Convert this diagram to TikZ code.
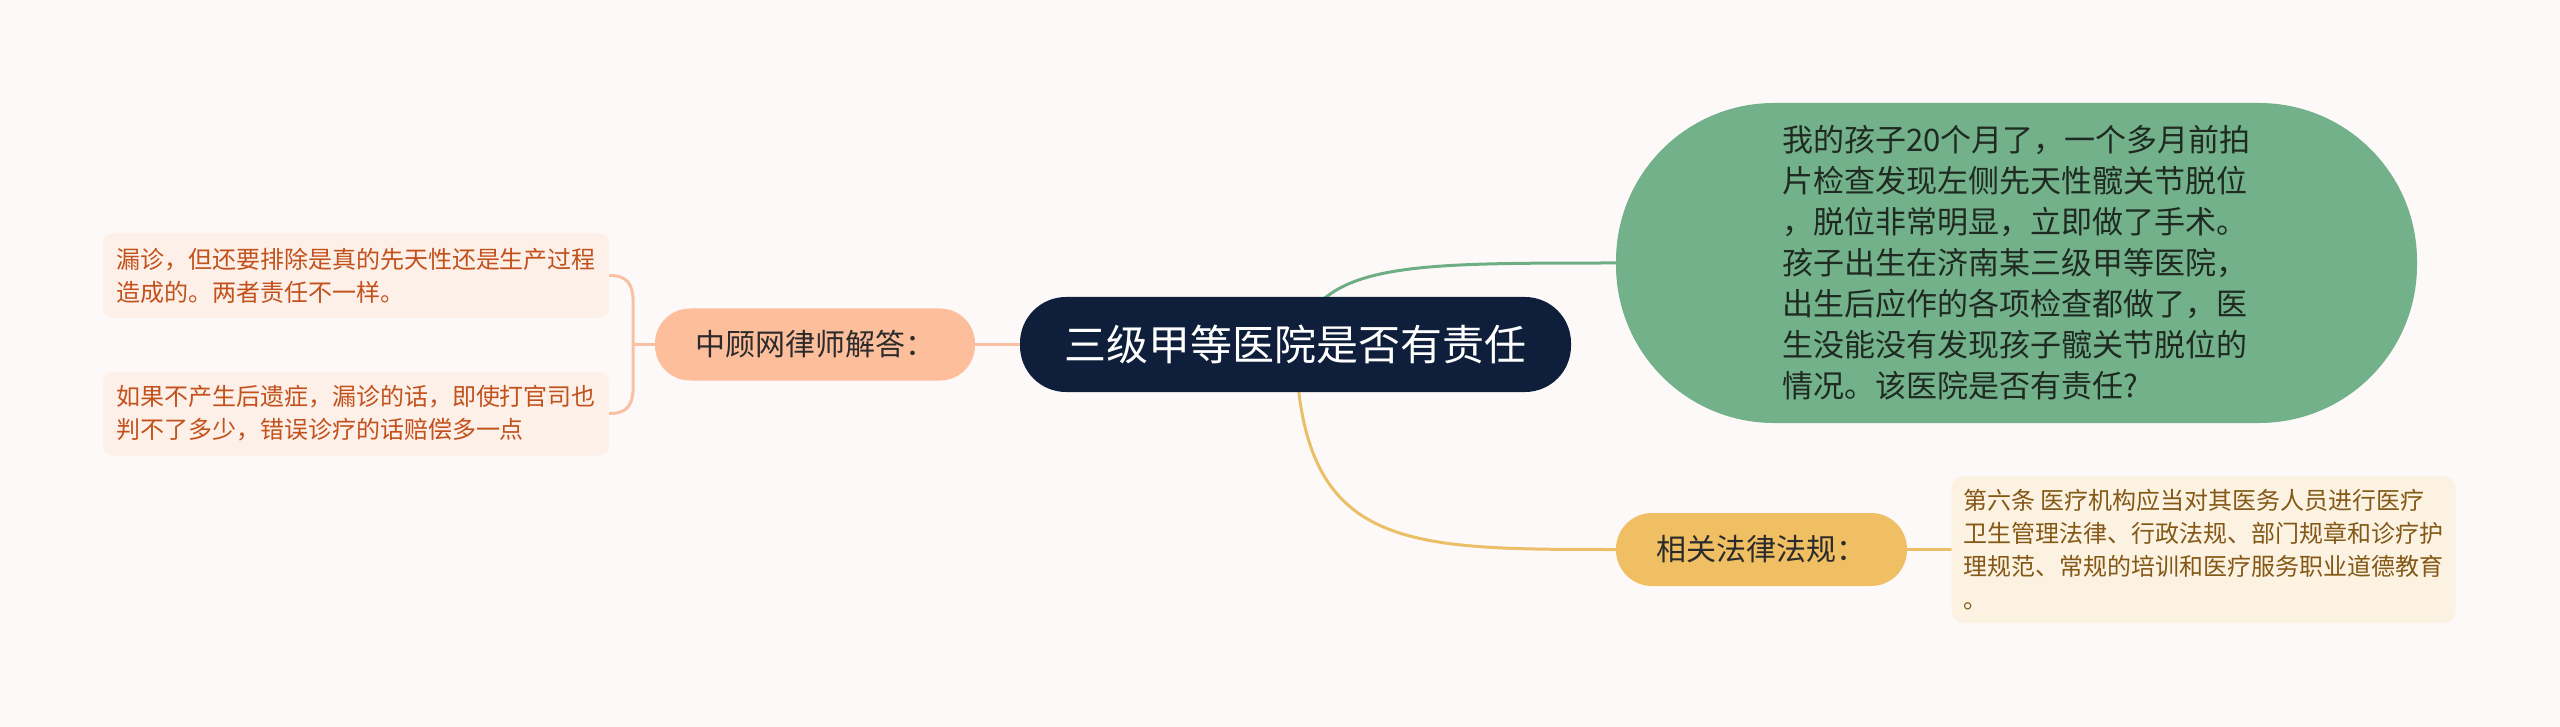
\documentclass[tikz,border=0pt]{standalone}
\usepackage{fontspec}
\setmainfont{Noto Sans CJK SC}
\usetikzlibrary{backgrounds,calc}
\definecolor{bgc}{HTML}{FDF9F8}
\definecolor{rootc}{HTML}{0E1E3B}
\definecolor{peach}{HTML}{FDBE9C}
\definecolor{peachline}{HTML}{F8C1A3}
\definecolor{leaffill}{HTML}{FDF0E8}
\definecolor{leaftext}{HTML}{C2511C}
\definecolor{greenc}{HTML}{72B189}
\definecolor{greenline}{HTML}{6DAE85}
\definecolor{goldc}{HTML}{F0BE63}
\definecolor{goldline}{HTML}{EABF67}
\definecolor{lawfill}{HTML}{FCF2E2}
\definecolor{lawtext}{HTML}{845816}
\definecolor{darktext}{HTML}{2B2B2B}
\definecolor{greentext}{HTML}{1F2A22}
\begin{document}
\begin{tikzpicture}[x=1pt,y=-1pt,
  box/.style={inner sep=0pt, align=left},
  conn/.style={line width=3pt, line cap=round}]
\useasboundingbox (0,0) rectangle (2560,727);
% nodes
\node[box, align=center, fill=rootc, text=white, minimum width=551pt, minimum height=95pt,
  rounded corners=46pt, font=\fontsize{42}{50}\selectfont] (root) at (1295.5,344.5) {三级甲等医院是否有责任};
\node[box, align=center, fill=peach, text=darktext, minimum width=320pt, minimum height=72pt,
  rounded corners=35pt, font=\fontsize{30}{36}\selectfont] (ans) at (815,344.5) {中顾网律师解答：};
\node[box, fill=leaffill, text=leaftext, minimum width=506pt, minimum height=85pt,
  rounded corners=10pt, font=\fontsize{24}{33}\selectfont] (l1) at (356,275.5)
  {漏诊，但还要排除是真的先天性还是生产过程\\造成的。两者责任不一样。};
\node[box, fill=leaffill, text=leaftext, minimum width=506pt, minimum height=84pt,
  rounded corners=10pt, font=\fontsize{24}{33}\selectfont] (l2) at (356,413.5)
  {如果不产生后遗症，漏诊的话，即使打官司也\\判不了多少，错误诊疗的话赔偿多一点};
\node[box, fill=greenc, text=greentext, minimum width=801pt, minimum height=320pt,
  rounded corners=158pt, font=\fontsize{31}{41}\selectfont] (q) at (2016.5,263)
  {我的孩子20个月了，一个多月前拍\\片检查发现左侧先天性髋关节脱位\\，脱位非常明显，立即做了手术。\\孩子出生在济南某三级甲等医院，\\出生后应作的各项检查都做了，医\\生没能没有发现孩子髋关节脱位的\\情况。该医院是否有责任?};
\node[box, align=center, fill=goldc, text=darktext, minimum width=291pt, minimum height=73pt,
  rounded corners=36pt, font=\fontsize{30}{36}\selectfont] (law) at (1761.5,549.5) {相关法律法规：};
\node[box, fill=lawfill, text=lawtext, minimum width=504pt, minimum height=147pt,
  rounded corners=12pt, font=\fontsize{24}{33}\selectfont] (lawtxt) at (2203.5,549.5)
  {第六条 医疗机构应当对其医务人员进行医疗\\卫生管理法律、行政法规、部门规章和诊疗护\\理规范、常规的培训和医疗服务职业道德教育\\。};
% background and connectors
\begin{scope}[on background layer]
\fill[bgc] (0,0) rectangle (2560,727);
\draw[conn, greenline] (root.center) .. controls ($(root.center |- q.west)+(25,0)$) and ($(q.west)+(-216,0)$) .. (q.west);
\draw[conn, goldline] (root.center) .. controls ($(root.center |- law.west)+(5,0)$) and ($(law.west)+(-216,0)$) .. (law.west);
\draw[conn, goldline] (law.east) -- (lawtxt.west);
\draw[conn, peachline] (root.west) -- (ans.east);
\coordinate (br) at ($(ans.west)+(-22,0)$);
\draw[conn, peachline] (ans.west) -- (br);
\draw[conn, peachline] (l1.east) .. controls ($(l1.east)+(18,0)$) and ($(l1.east)+(24,8)$) .. ($(l1.east)+(24,28)$)
  -- ($(l2.east)+(24,-28)$) .. controls ($(l2.east)+(24,-8)$) and ($(l2.east)+(18,0)$) .. (l2.east);
\end{scope}
\end{tikzpicture}
\end{document}
